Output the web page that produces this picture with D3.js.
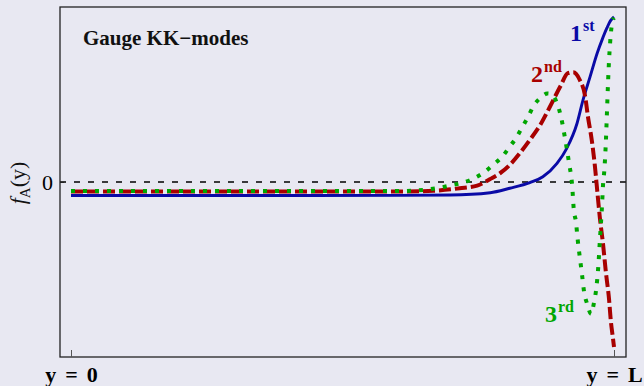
<!DOCTYPE html>
<html>
<head>
<meta charset="utf-8">
<script src="https://cdn.jsdelivr.net/npm/d3@7"></script>
<style>
  html, body { margin: 0; padding: 0; background: #e8e8f2; }
  svg { display: block; }
  text { font-family: "Liberation Serif", "Times New Roman", serif; }
</style>
</head>
<body>
<svg id="chart" width="644" height="386"></svg>
<script>
// Position along the extra dimension, as a fraction of L
const firstPos  = [0, 0.238, 0.422, 0.606, 0.698, 0.772, 0.808, 0.845, 0.869, 0.895, 0.913, 0.932, 0.943, 0.956, 0.969, 0.978, 0.987, 0.994, 1.0];
const firstVal  = [-0.082, -0.082, -0.082, -0.081, -0.079, -0.065, -0.038, -0.004, 0.032, 0.113, 0.204, 0.356, 0.497, 0.638, 0.780, 0.861, 0.933, 0.979, 1.0];

const secondPos = [0, 0.422, 0.606, 0.667, 0.716, 0.748, 0.772, 0.790, 0.808, 0.827, 0.845, 0.864, 0.882, 0.901, 0.915, 0.925, 0.937, 0.947, 0.952, 0.959, 0.965, 0.969, 0.974, 0.980, 0.985, 0.991, 0.994, 0.998, 1.0];
const secondVal = [-0.058, -0.058, -0.058, -0.053, -0.038, -0.022, 0.018, 0.053, 0.103, 0.176, 0.255, 0.345, 0.456, 0.578, 0.659, 0.665, 0.618, 0.517, 0.396, 0.255, 0.091, -0.048, -0.218, -0.382, -0.545, -0.715, -0.836, -0.945, -1.0];

const thirdPos  = [0, 0.422, 0.606, 0.678, 0.700, 0.722, 0.742, 0.761, 0.777, 0.794, 0.807, 0.820, 0.831, 0.842, 0.851, 0.866, 0.877, 0.884, 0.895, 0.902, 0.910, 0.917, 0.923, 0.926, 0.930, 0.933, 0.937, 0.941, 0.945, 0.950, 0.958, 0.963, 0.967, 0.971, 0.974, 0.978, 0.980, 0.982, 0.985, 0.987, 0.989, 0.991, 0.993, 0.996, 1.0];
const thirdVal  = [-0.055, -0.055, -0.055, -0.035, -0.020, -0.004, 0.022, 0.059, 0.103, 0.153, 0.210, 0.268, 0.332, 0.396, 0.456, 0.513, 0.536, 0.533, 0.477, 0.400, 0.261, 0.119, -0.024, -0.170, -0.242, -0.345, -0.455, -0.558, -0.667, -0.733, -0.800, -0.733, -0.655, -0.515, -0.352, -0.139, -0.006, 0.062, 0.242, 0.418, 0.600, 0.745, 0.850, 0.952, 0.994];

const xTickValues = [0, 1];
const xTickLabels = ["y = 0", "y = L"];
const yTickValues = [0];
const yTickLabels = ["0"];

const modes = [
  { name: "1st", pos: firstPos,  val: firstVal,  color: "#0a0aa6", width: 2.9, dash: null,   num: "1", sup: "st", lx: 570, ly: 41 },
  { name: "2nd", pos: secondPos, val: secondVal, color: "#a80000", width: 4,   dash: "12,4", num: "2", sup: "nd", lx: 531, ly: 82 },
  { name: "3rd", pos: thirdPos,  val: thirdVal,  color: "#00a600", width: 4,   dash: "4,8",  num: "3", sup: "rd", lx: 545, ly: 322 }
];

const svg = d3.select("#chart");
const frame = { left: 60, top: 7, right: 626, bottom: 357 };

svg.append("rect")
  .attr("width", 644).attr("height", 386)
  .attr("fill", "#e8e8f2");

const x = d3.scaleLinear().domain([0, 1]).range([71, 614]);
const y = d3.scaleLinear().domain([-1.06, 1.06]).range([frame.bottom, frame.top]);

// zero reference line
svg.append("line")
  .attr("x1", frame.left).attr("x2", frame.right)
  .attr("y1", y(0)).attr("y2", y(0))
  .attr("stroke", "#000").attr("stroke-width", 1.4)
  .attr("stroke-dasharray", "6,8");

// mode profiles
const line = d3.line()
  .x(d => x(d[0]))
  .y(d => y(d[1]))
  .curve(d3.curveMonotoneX);

modes.forEach(m => {
  const pts = m.pos.map((p, i) => [p, m.val[i]]);
  svg.append("path")
    .datum(pts)
    .attr("d", line)
    .attr("fill", "none")
    .attr("stroke", m.color)
    .attr("stroke-width", m.width)
    .attr("stroke-dasharray", m.dash)
    .attr("stroke-linecap", "butt")
    .attr("stroke-linejoin", "round");
});

// frame
svg.append("rect")
  .attr("x", frame.left).attr("y", frame.top)
  .attr("width", frame.right - frame.left)
  .attr("height", frame.bottom - frame.top)
  .attr("fill", "none")
  .attr("stroke", "#222").attr("stroke-width", 1.3);

// bottom axis
const xAxis = d3.axisBottom(x)
  .tickValues(xTickValues)
  .tickSize(-7)
  .tickPadding(9)
  .tickFormat((d, i) => xTickLabels[i]);

const gx = svg.append("g")
  .attr("transform", `translate(0,${frame.bottom})`)
  .call(xAxis);
gx.select(".domain").remove();
gx.selectAll(".tick line").attr("stroke", "#555").attr("stroke-width", 1);
gx.selectAll(".tick text")
  .attr("fill", "#000")
  .style("font-family", '"Liberation Serif", "Times New Roman", serif')
  .style("font-size", "22px")
  .style("font-weight", "bold")
  .style("word-spacing", "3.5px");

// left axis
const yAxis = d3.axisLeft(y)
  .tickValues(yTickValues)
  .tickSize(-4)
  .tickPadding(7)
  .tickFormat((d, i) => yTickLabels[i]);

const gy = svg.append("g")
  .attr("transform", `translate(${frame.left},0)`)
  .call(yAxis);
gy.select(".domain").remove();
gy.selectAll(".tick line").attr("stroke", "#222").attr("stroke-width", 1);
gy.selectAll(".tick text")
  .attr("fill", "#000")
  .style("font-family", '"Liberation Serif", "Times New Roman", serif')
  .style("font-size", "22px");

// y-axis title: f_A(y)
const yTitle = svg.append("text")
  .attr("transform", "translate(25,183) rotate(-90)")
  .attr("text-anchor", "middle")
  .style("font-size", "22px")
  .attr("fill", "#111");
yTitle.append("tspan").style("font-style", "italic").text("f");
yTitle.append("tspan").attr("dy", 5).style("font-size", "15px").text("A");
yTitle.append("tspan").attr("dy", -5).text("(y)");

// panel title
svg.append("text")
  .attr("x", 83).attr("y", 45)
  .style("font-size", "21px")
  .style("font-weight", "bold")
  .attr("fill", "#111")
  .text("Gauge KK\u2212modes");

// mode labels with ordinal superscripts
modes.forEach(m => {
  const t = svg.append("text")
    .attr("x", m.lx).attr("y", m.ly)
    .attr("fill", m.color)
    .style("font-weight", "bold")
    .style("font-size", "24px");
  t.append("tspan").text(m.num);
  t.append("tspan").attr("dy", -10).attr("dx", 1).style("font-size", "16px").text(m.sup);
});
</script>
</body>
</html>
